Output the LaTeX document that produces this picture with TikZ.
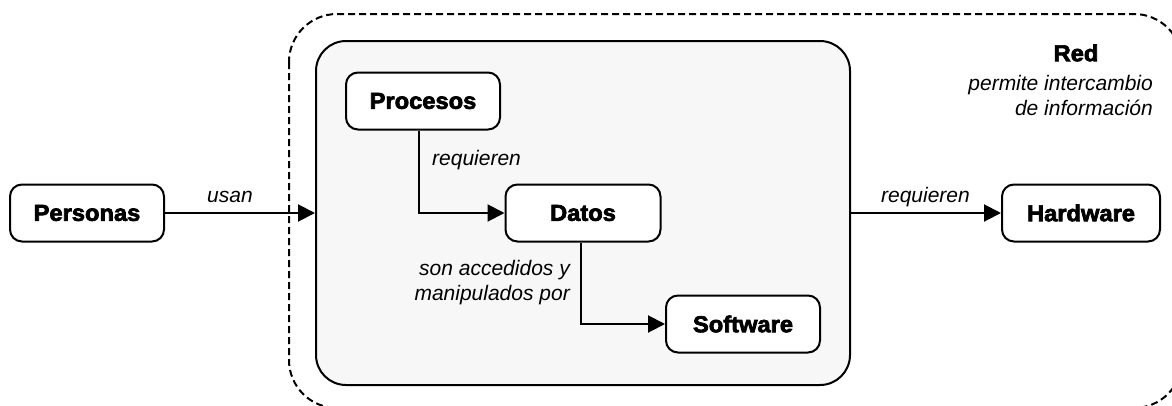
\documentclass[tikz,border=0pt]{standalone}
\usepackage{fontspec}
\setmainfont{Liberation Sans}
\newfontfamily\boldface[FakeBold=3,FakeStretch=1.03]{Liberation Sans Bold}
\usetikzlibrary{arrows.meta}
\definecolor{corefill}{HTML}{F7F7F7}
\tikzset{
  box/.style={draw, line width=2pt, rounded corners=12pt, fill=white, minimum width=154pt, minimum height=57pt, font=\boldface\fontsize{23}{27}\selectfont, inner sep=0pt},
  arr/.style={line width=2pt, -{Triangle[length=17pt,width=17pt]}},
  lbl/.style={font=\itshape\fontsize{21}{25}\selectfont, inner sep=0pt}
}
\begin{document}
\begin{tikzpicture}[x=1pt,y=-1pt]
\useasboundingbox (0,0) rectangle (1172,405);
\clip (0,0) rectangle (1172,405);
\draw[line width=2pt, dash pattern=on 7pt off 4pt, rounded corners=48pt] (289,14) rectangle (1182,408);
\node[draw, line width=2pt, rounded corners=30pt, fill=corefill, minimum width=534pt, minimum height=344pt, inner sep=0pt] (core) at (583,213) {};
\node[box] (per) at (87,213) {Personas};
\node[box] (proc) at (423,101) {Procesos};
\node[box, minimum width=155pt] (dat) at (583,213) {Datos};
\node[box] (soft) at (743,324) {Software};
\node[box, minimum width=158pt] (hard) at (1081,213) {Hardware};
\draw[arr] (per.east) -- (per.east -| core.west);
\draw[arr] (hard.west -| core.east) -- (hard.west);
\draw[arr] ([xshift=-4pt]proc.south) |- (dat.west);
\draw[arr] ([xshift=-2pt]dat.south) |- (soft.west);
\node[lbl] (l1) at (230,197) {usan};
\node[lbl, anchor=east] (l2) at (970,197) {requieren};
\node[lbl, anchor=west] (l3) at (432,160) {requieren};
\node[lbl, anchor=east, align=right] (l4) at (570,283) {son accedidos y\\manipulados por};
\node[font=\boldface\fontsize{23}{27}\selectfont, inner sep=0pt] (red) at (1076,53) {Red};
\node[lbl, anchor=east, align=right] (redl) at (1153,95) {permite intercambio\\de información};
\end{tikzpicture}
\end{document}
